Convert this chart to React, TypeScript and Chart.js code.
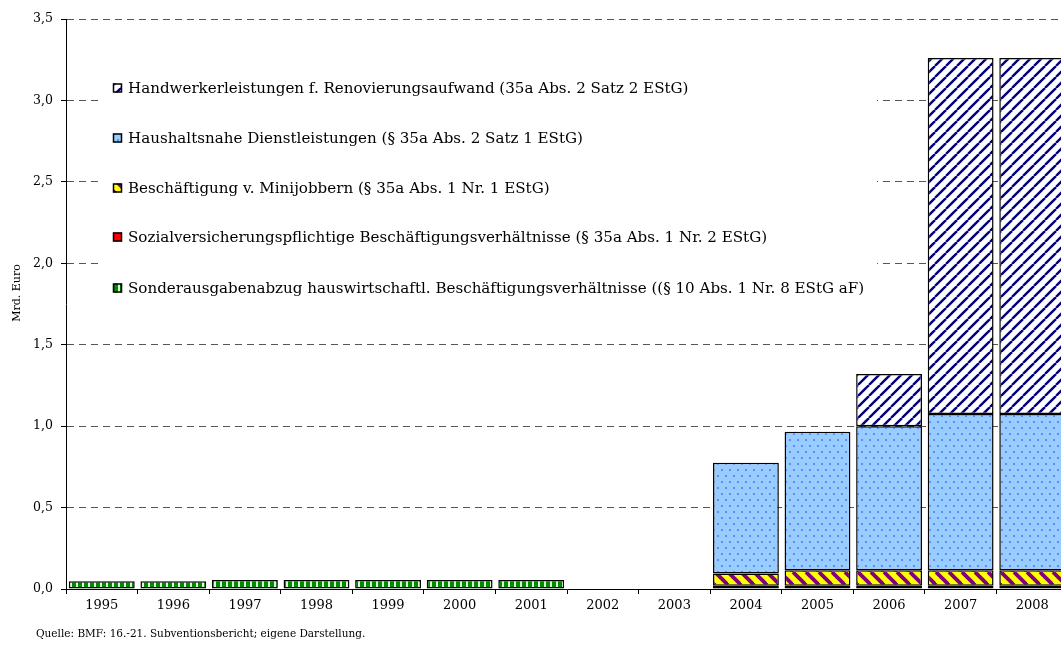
import React, { useEffect, useRef } from "react";
import { Chart, registerables } from "chart.js";

Chart.register(...registerables);

const years = ["1995","1996","1997","1998","1999","2000","2001","2002","2003","2004","2005","2006","2007","2008"];
const sonderausgaben = [0.048, 0.048, 0.055, 0.055, 0.055, 0.055, 0.055, null, null, null, null, null, null, null];
const sozialversicherung = [null, null, null, null, null, null, null, null, null, 0.02, 0.02, 0.02, 0.02, 0.02];
const minijobber = [null, null, null, null, null, null, null, null, null, 0.075, 0.095, 0.095, 0.095, 0.095];
const haushaltsnah = [null, null, null, null, null, null, null, null, null, 0.68, 0.85, 0.885, 0.96, 0.96];
const handwerker = [null, null, null, null, null, null, null, null, null, null, null, 0.32, 2.185, 2.185];

const legendLabels = [
  "Handwerkerleistungen f. Renovierungsaufwand (35a Abs. 2 Satz 2 EStG)",
  "Haushaltsnahe Dienstleistungen (§ 35a Abs. 2 Satz 1 EStG)",
  "Beschäftigung v. Minijobbern (§ 35a Abs. 1 Nr. 1 EStG)",
  "Sozialversicherungspflichtige Beschäftigungsverhältnisse (§ 35a Abs. 1 Nr. 2 EStG)",
  "Sonderausgabenabzug hauswirtschaftl. Beschäftigungsverhältnisse ((§ 10 Abs. 1 Nr. 8 EStG aF)",
];
const yTitle = "Mrd. Euro";
const sourceText = "Quelle: BMF: 16.-21. Subventionsbericht; eigene Darstellung.";

const SERIF = "'DejaVu Serif', serif";

function makePattern(w: number, h: number, draw: (g: CanvasRenderingContext2D) => void) {
  const c = document.createElement("canvas");
  c.width = w;
  c.height = h;
  const g = c.getContext("2d")!;
  draw(g);
  return g.createPattern(c, "repeat")!;
}

export default function App() {
  const ref = useRef<HTMLCanvasElement>(null);

  useEffect(() => {
    const hatchBlue = makePattern(11, 11, (g) => {
      g.fillStyle = "#ffffff";
      g.fillRect(0, 0, 11, 11);
      g.strokeStyle = "#000080";
      g.lineWidth = 2.4;
      for (const k of [-11, 0, 11]) {
        g.beginPath();
        g.moveTo(k, 11);
        g.lineTo(k + 11, 0);
        g.stroke();
      }
    });
    const hatchYellow = makePattern(13, 13, (g) => {
      g.fillStyle = "#ffff00";
      g.fillRect(0, 0, 13, 13);
      g.strokeStyle = "#800080";
      g.lineWidth = 3.8;
      for (const k of [-13, 0, 13]) {
        g.beginPath();
        g.moveTo(k, 0);
        g.lineTo(k + 13, 13);
        g.stroke();
      }
    });
    const dots = makePattern(8, 12, (g) => {
      g.fillStyle = "#99ccff";
      g.fillRect(0, 0, 8, 12);
      g.fillStyle = "#5b8cff";
      g.fillRect(1, 1, 2, 2);
      g.fillRect(5, 7, 2, 2);
    });
    const greenStripes = makePattern(6, 6, (g) => {
      g.fillStyle = "#008a00";
      g.fillRect(0, 0, 6, 6);
      g.fillStyle = "#d8ffd8";
      g.fillRect(4, 0, 2, 6);
    });
    const red = "#ff0000";

    const swatches = [hatchBlue, dots, hatchYellow, red, greenStripes];

    const common = {
      borderColor: "#000000",
      borderWidth: 1.5,
      borderSkipped: false as const,
      barPercentage: 0.92,
      categoryPercentage: 1.0,
    };

    const overlay = {
      id: "overlay",
      beforeDatasetsDraw(chart: any) {
        const ctx = chart.ctx as CanvasRenderingContext2D;
        ctx.save();
        ctx.fillStyle = "#ffffff";
        ctx.fillRect(100, 68, 777, 238);
        const centers = [88, 138, 188, 237, 288];
        ctx.font = `15.1px ${SERIF}`;
        ctx.textBaseline = "middle";
        ctx.textAlign = "left";
        legendLabels.forEach((lab, i) => {
          const cy = centers[i];
          ctx.fillStyle = swatches[i] as any;
          ctx.fillRect(113, cy - 4.5, 9, 9);
          ctx.strokeStyle = "#000";
          ctx.lineWidth = 1.5;
          ctx.strokeRect(113.5, cy - 4, 8, 8);
          ctx.fillStyle = "#000";
          ctx.fillText(lab, 128, cy + 1);
        });
        ctx.restore();
      },
      afterDraw(chart: any) {
        const ctx = chart.ctx as CanvasRenderingContext2D;
        ctx.save();
        ctx.fillStyle = "#000";
        ctx.font = `10.5px ${SERIF}`;
        ctx.textBaseline = "middle";
        ctx.textAlign = "left";
        ctx.fillText(sourceText, 36, 634);
        ctx.font = `11px ${SERIF}`;
        ctx.translate(17, 293);
        ctx.rotate(-Math.PI / 2);
        ctx.textAlign = "center";
        ctx.fillText(yTitle, 0, 0);
        ctx.restore();
      },
    };

    const chart = new Chart(ref.current!, {
      type: "bar",
      data: {
        labels: years,
        datasets: [
          { label: legendLabels[4], data: sonderausgaben, backgroundColor: greenStripes, ...common },
          { label: legendLabels[3], data: sozialversicherung, backgroundColor: red, ...common },
          { label: legendLabels[2], data: minijobber, backgroundColor: hatchYellow, ...common },
          { label: legendLabels[1], data: haushaltsnah, backgroundColor: dots, ...common },
          { label: legendLabels[0], data: handwerker, backgroundColor: hatchBlue, ...common },
        ] as any,
      },
      options: {
        animation: false,
        responsive: false,
        maintainAspectRatio: false,
        layout: { padding: { top: 19, right: 12, left: 0, bottom: 0 } },
        plugins: { legend: { display: false }, tooltip: { enabled: false } },
        scales: {
          x: {
            stacked: true,
            grid: {
              offset: true,
              drawOnChartArea: false,
              drawTicks: true,
              tickLength: 5,
              tickColor: "#000",
            },
            border: { display: true, color: "#000", width: 1 },
            ticks: { color: "#000", font: { family: SERIF, size: 13 }, padding: 4, maxRotation: 0, autoSkip: false },
            afterFit: (s: any) => { s.height = 64; },
          },
          y: {
            stacked: true,
            min: 0,
            max: 3.5,
            grid: {
              color: "#555",
              lineWidth: 1,
              tickLength: 5,
              tickColor: "#000",
              tickBorderDash: [],
            },
            border: { display: true, color: "#000", width: 1, dash: [7, 5] },
            ticks: {
              stepSize: 0.5,
              color: "#000",
              font: { family: SERIF, size: 12.5 },
              padding: 8,
              callback: (v: any) => Number(v).toFixed(1).replace(".", ","),
            },
            afterFit: (s: any) => { s.width = 66; },
          },
        },
      },
      plugins: [overlay],
    });
    return () => chart.destroy();
  }, []);

  return (
    <div style={{ position: "absolute", left: 0, top: 0, width: 1061, height: 653, overflow: "hidden", background: "#fff" }}>
      <canvas ref={ref} width={1080} height={653} style={{ display: "block", width: 1080, height: 653 }} />
    </div>
  );
}
